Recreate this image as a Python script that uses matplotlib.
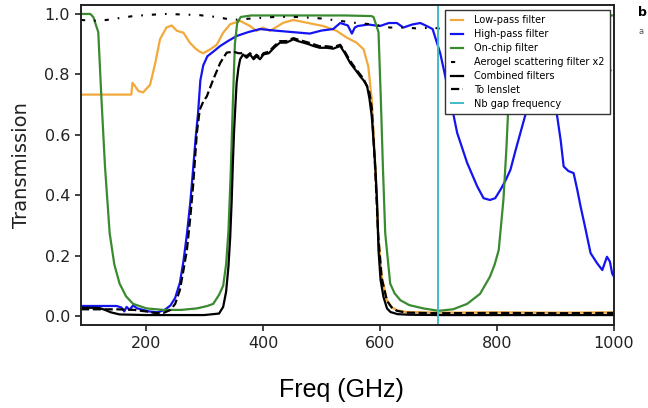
import matplotlib
matplotlib.use("Agg")
import matplotlib.pyplot as plt

# ---- data (GHz, transmission) ----
lowpass_f = [89, 175, 177, 180, 187, 195, 207, 216, 224, 235, 244, 253, 264, 275, 285, 292, 298,
             310, 321, 332, 344, 361, 378, 389, 400, 412, 435, 452, 475, 503, 526, 543, 560, 572,
             580, 586, 592, 597, 603, 612, 620, 629, 645, 700, 800, 900, 1000]
lowpass_t = [0.733, 0.733, 0.772, 0.765, 0.745, 0.74, 0.765, 0.838, 0.916, 0.955, 0.962, 0.944,
             0.938, 0.905, 0.885, 0.875, 0.87, 0.883, 0.898, 0.938, 0.966, 0.977, 0.96, 0.944,
             0.955, 0.944, 0.971, 0.98, 0.971, 0.96, 0.944, 0.922, 0.905, 0.883, 0.827, 0.717,
             0.495, 0.274, 0.13, 0.052, 0.03, 0.019, 0.013, 0.011, 0.012, 0.011, 0.012]

highpass_f = [89, 120, 150, 158, 163, 167, 172, 178, 185, 195, 205, 220, 232, 242, 250, 258, 264,
              270, 276, 281, 285, 289, 293, 298, 305, 315, 327, 340, 355, 375, 395, 420, 450, 480,
              500, 520, 532, 545, 552, 557, 562, 580, 600, 615, 629, 640, 655, 669, 680, 690, 703,
              712, 720, 732, 749, 766, 777, 788, 797, 806, 815, 823, 832, 840, 851, 860, 870, 880,
              890, 897, 903, 909, 914, 922, 931, 937, 943, 950, 960, 971, 980, 988, 993, 997, 1000]
highpass_t = [0.033, 0.033, 0.033, 0.028, 0.015, 0.03, 0.02, 0.035, 0.025, 0.02, 0.015, 0.012,
              0.02, 0.035, 0.06, 0.11, 0.18, 0.27, 0.38, 0.495, 0.59, 0.67, 0.78, 0.83, 0.86,
              0.875, 0.894, 0.91, 0.927, 0.94, 0.95, 0.945, 0.94, 0.935, 0.945, 0.95, 0.97, 0.962,
              0.935, 0.955, 0.96, 0.965, 0.96, 0.97, 0.97, 0.955, 0.965, 0.97, 0.96, 0.95, 0.87,
              0.79, 0.72, 0.606, 0.507, 0.43, 0.39, 0.384, 0.39, 0.418, 0.45, 0.484, 0.55, 0.606,
              0.683, 0.75, 0.80, 0.80, 0.76, 0.72, 0.66, 0.58, 0.495, 0.48, 0.473, 0.42, 0.362,
              0.30, 0.208, 0.175, 0.152, 0.196, 0.18, 0.14, 0.13]

onchip_f = [89, 105, 110, 118.5, 124, 130, 138, 146, 155, 166, 178, 201, 230, 260, 287, 305, 315,
            325, 332, 337, 341, 345, 348.5, 352, 356, 362, 380, 450, 540, 585, 589, 597.5, 601.5,
            605, 609, 617.5, 625, 635, 650, 674, 700, 725, 749, 771, 788, 796, 803, 811, 816, 820,
            823, 828, 850, 1000]
onchip_t = [1.0, 1.0, 0.99, 0.94, 0.717, 0.495, 0.274, 0.17, 0.107, 0.065, 0.04, 0.025, 0.02,
            0.02, 0.025, 0.033, 0.04, 0.07, 0.1, 0.17, 0.28, 0.48, 0.7, 0.9, 0.97, 0.99, 0.995,
            0.995, 0.995, 0.993, 0.99, 0.94, 0.717, 0.495, 0.274, 0.107, 0.075, 0.052, 0.036,
            0.025, 0.017, 0.022, 0.04, 0.073, 0.13, 0.17, 0.218, 0.384, 0.55, 0.717, 0.94, 0.995,
            0.995, 0.995]

aerogel_f = [89, 121, 150, 178, 205, 235, 265, 292, 320, 349, 380, 420, 460, 500, 532, 560, 590,
             617, 640, 665, 691, 720, 760, 800, 850, 900, 950, 1000]
aerogel_t = [0.98, 0.977, 0.985, 0.993, 0.997, 1.0, 0.998, 0.996, 0.99, 0.98, 0.985, 0.99, 0.99,
             0.985, 0.977, 0.97, 0.965, 0.955, 0.955, 0.952, 0.955, 0.945, 0.93, 0.91, 0.885,
             0.86, 0.835, 0.81]

combined_f = [89, 110, 121, 130, 140, 155, 200, 300, 325, 332, 337, 341, 344, 346.6, 348.5, 350.5,
              353, 355, 358, 361, 366, 372, 378, 384, 389, 395, 401, 410, 420, 429, 440, 452, 460,
              469, 478, 486, 497, 509, 520, 532, 540, 549, 558, 566, 572, 578, 582, 586, 589, 592,
              595, 597.5, 601, 606, 612, 618, 630, 650, 700, 800, 1000]
combined_t = [0.027, 0.027, 0.026, 0.02, 0.012, 0.005, 0.003, 0.003, 0.008, 0.03, 0.08, 0.163,
              0.26, 0.384, 0.5, 0.606, 0.7, 0.772, 0.82, 0.85, 0.866, 0.855, 0.866, 0.85, 0.86,
              0.85, 0.866, 0.87, 0.89, 0.905, 0.905, 0.916, 0.91, 0.905, 0.9, 0.894, 0.888, 0.888,
              0.885, 0.894, 0.87, 0.838, 0.815, 0.794, 0.78, 0.761, 0.72, 0.661, 0.58, 0.495, 0.38,
              0.218, 0.12, 0.063, 0.025, 0.013, 0.006, 0.004, 0.003, 0.003, 0.003]

lenslet_f = [89, 150, 180, 200, 215, 230, 242, 250, 258, 264, 270, 276, 281, 287, 292, 298, 304,
             315, 327, 338, 350, 358, 366, 372, 378, 384, 389, 395, 401, 410, 420, 429, 440, 452,
             460, 469, 478, 486, 497, 509, 520, 532, 540, 549, 558, 566, 572, 578, 582, 586, 592,
             597, 603, 612, 620, 629, 645, 700, 800, 900, 1000]
lenslet_t = [0.022, 0.022, 0.02, 0.015, 0.01, 0.01, 0.02, 0.04, 0.086, 0.15, 0.218, 0.33, 0.44,
             0.606, 0.683, 0.71, 0.727, 0.783, 0.838, 0.872, 0.875, 0.87, 0.87, 0.86, 0.87, 0.855,
             0.865, 0.855, 0.87, 0.875, 0.895, 0.91, 0.91, 0.92, 0.915, 0.91, 0.905, 0.9, 0.893,
             0.893, 0.89, 0.898, 0.875, 0.845, 0.82, 0.8, 0.785, 0.76, 0.74, 0.69, 0.48, 0.265,
             0.125, 0.05, 0.028, 0.017, 0.011, 0.009, 0.01, 0.009, 0.01]

nb_gap = 700

xticks = [200, 400, 600, 800, 1000]
yticks = [0.0, 0.2, 0.4, 0.6, 0.8, 1.0]

fig = plt.figure(figsize=(6.48, 4.08), dpi=100)
ax = fig.add_axes([0.125, 0.2034, 0.8225, 0.7846])

lw = 1.6
ax.plot(lowpass_f, lowpass_t, color='#f2a93b', lw=lw, label='Low-pass filter')
ax.plot(highpass_f, highpass_t, color='#1414f0', lw=lw, label='High-pass filter')
ax.plot(onchip_f, onchip_t, color='#3a8a30', lw=lw, label='On-chip filter')
ax.plot(aerogel_f, aerogel_t, color='black', lw=1.5, ls=(0, (2, 4.3, 0.8, 4.3)),
        label='Aerogel scattering filter x2')
ax.plot(combined_f, combined_t, color='black', lw=lw, label='Combined filters')
ax.plot(lenslet_f, lenslet_t, color='black', lw=lw, ls='--', label='To lenslet')
ax.axvline(nb_gap, color='#3fbcc8', lw=1.4, label='Nb gap frequency')

ax.set_xlim(89, 1000)
ax.set_ylim(-0.03, 1.03)
ax.set_xticks(xticks)
ax.set_yticks(yticks)
ax.set_xticklabels([str(t) for t in xticks])
ax.set_yticklabels(['%.1f' % t for t in yticks])
ax.tick_params(direction='out', length=4, width=1.2, labelsize=11.5, colors='#222222', pad=4)
for s in ax.spines.values():
    s.set_linewidth(1.4)
    s.set_color('#222222')

leg = ax.legend(loc='upper right', bbox_to_anchor=(0.9925, 0.984), borderaxespad=0,
                fontsize=7, handlelength=1.3, handletextpad=1.1, labelspacing=0.4,
                borderpad=0.55, fancybox=False, framealpha=1, edgecolor='#333333')
leg.get_frame().set_linewidth(1.0)

fig.text(22 / 648, 0.596, 'Transmission', rotation=90, ha='center', va='center', fontsize=14,
         color='#222222')
fig.text(341 / 648, 0.044, 'Freq (GHz)', ha='center', va='center', fontsize=18,
         family=['Liberation Sans Narrow', 'Liberation Sans'])

# bits of the neighbouring panel at the right edge
fig.text(0.984, 0.985, 'b', ha='left', va='top', fontsize=9, weight='bold')
fig.text(0.986, 0.935, 'a', ha='left', va='top', fontsize=6, color='#555555')

fig.savefig('out.png', dpi=100)
